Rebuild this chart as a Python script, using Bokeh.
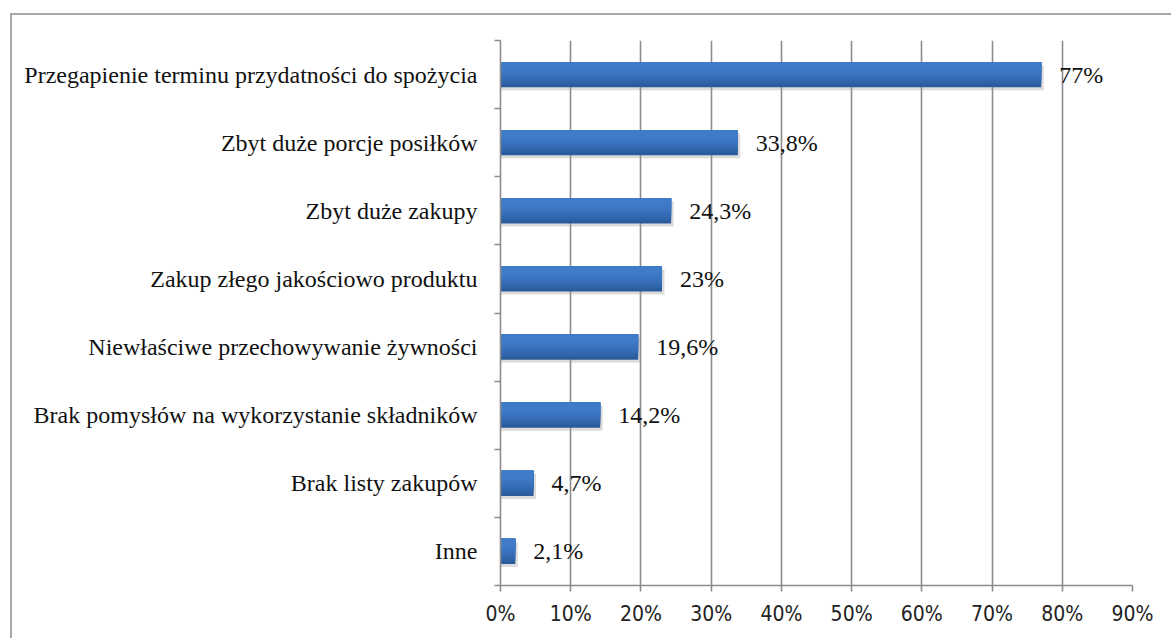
from bokeh.plotting import figure
from bokeh.models import FixedTicker, ColumnDataSource, Range1d
from bokeh.layouts import column
from bokeh.core.properties import value
from bokeh.embed import file_html
from bokeh.resources import INLINE

# Causes of food waste (share of respondents)
categories = [
    "Przegapienie terminu przydatności do spożycia",
    "Zbyt duże porcje posiłków",
    "Zbyt duże zakupy",
    "Zakup złego jakościowo produktu",
    "Niewłaściwe przechowywanie żywności",
    "Brak pomysłów na wykorzystanie składników",
    "Brak listy zakupów",
    "Inne",
]
values = [77, 33.8, 24.3, 23, 19.6, 14.2, 4.7, 2.1]
value_labels = ["77%", "33,8%", "24,3%", "23%", "19,6%", "14,2%", "4,7%", "2,1%"]
x_ticks = [0, 10, 20, 30, 40, 50, 60, 70, 80, 90]
x_tick_labels = ["0%", "10%", "20%", "30%", "40%", "50%", "60%", "70%", "80%", "90%"]

SERIF = "Liberation Serif, Times New Roman, serif"
SANS = "DejaVu Sans Condensed, DejaVu Sans, sans-serif"

n = len(categories)
centers = [n - 0.5 - i for i in range(n)]

src = ColumnDataSource(dict(y=centers, v=values, lab=value_labels))

p = figure(
    width=1159, height=623,
    x_range=Range1d(0, 90), y_range=Range1d(0, n),
    output_backend="svg", toolbar_location=None,
    min_border_left=488, min_border_right=39, min_border_top=25, min_border_bottom=53,
)
p.outline_line_color = None
p.background_fill_color = "white"
p.border_fill_color = "white"

# vertical gridlines
p.ygrid.grid_line_color = None
p.xgrid.ticker = FixedTicker(ticks=x_ticks)
p.xgrid.grid_line_color = "#8c8c8c"
p.xgrid.grid_line_width = 1.6

axis_col = "#8c8c8c"

# x axis
p.xaxis.ticker = FixedTicker(ticks=x_ticks)
p.xaxis.major_label_overrides = {t: s for t, s in zip(x_ticks, x_tick_labels)}
p.xaxis.axis_line_color = axis_col
p.xaxis.axis_line_width = 1.6
p.xaxis.major_tick_line_color = axis_col
p.xaxis.major_tick_line_width = 1.6
p.xaxis.major_tick_in = 0
p.xaxis.major_tick_out = 6
p.xaxis.minor_tick_line_color = None
p.xaxis.major_label_standoff = 10
p.xaxis.major_label_text_font = SANS
p.xaxis.major_label_text_font_size = "21px"
p.xaxis.major_label_text_color = "#222222"

# y axis: labels at band centers, tick marks at band boundaries
p.yaxis.ticker = FixedTicker(ticks=centers, minor_ticks=list(range(n + 1)))
p.yaxis.major_label_overrides = {c: s for c, s in zip(centers, categories)}
p.yaxis.axis_line_color = axis_col
p.yaxis.axis_line_width = 1.6
p.yaxis.major_tick_line_color = None
p.yaxis.minor_tick_line_color = axis_col
p.yaxis.minor_tick_line_width = 1.6
p.yaxis.minor_tick_in = 0
p.yaxis.minor_tick_out = 6
p.yaxis.major_label_standoff = 17
p.yaxis.major_label_text_font = SERIF
p.yaxis.major_label_text_font_size = "24px"
p.yaxis.major_label_text_color = "#111111"

bar_h = 0.37

# soft drop shadow
shadow = ColumnDataSource(dict(y=[c - 0.045 for c in centers], v=[v + 0.35 for v in values]))
p.hbar(y="y", right="v", left=0.0, height=bar_h, source=shadow,
       fill_color="#9a9a9a", fill_alpha=0.35, line_color=None)

# bar body with a top-to-bottom shading
p.hbar(y="y", right="v", left=0, height=bar_h, source=src,
       fill_color="#2b5b9b", line_color=None)
shades = ["#2f63a8", "#3368b0", "#376db7", "#3a72bd", "#3c76c2", "#3e79c6", "#3f7bc9"]
for k, col in enumerate(shades):
    frac = 0.88 - k * 0.1
    hh = bar_h * frac
    ys = [c + bar_h / 2 - hh / 2 for c in centers]
    p.hbar(y=ys, right=values, left=0, height=hh, fill_color=col, line_color=None)

p.text(x="v", y="y", text="lab", source=src, x_offset=18,
       text_baseline="middle", text_align="left",
       text_font=value(SERIF), text_font_size="24px",
       text_color="#111111")

layout = column(p, styles={
    "margin-left": "10px", "margin-top": "13px",
    "border-left": "2px solid #a8a8a8", "border-top": "2px solid #a8a8a8",
})

open("out.html", "w").write(file_html(layout, INLINE))
